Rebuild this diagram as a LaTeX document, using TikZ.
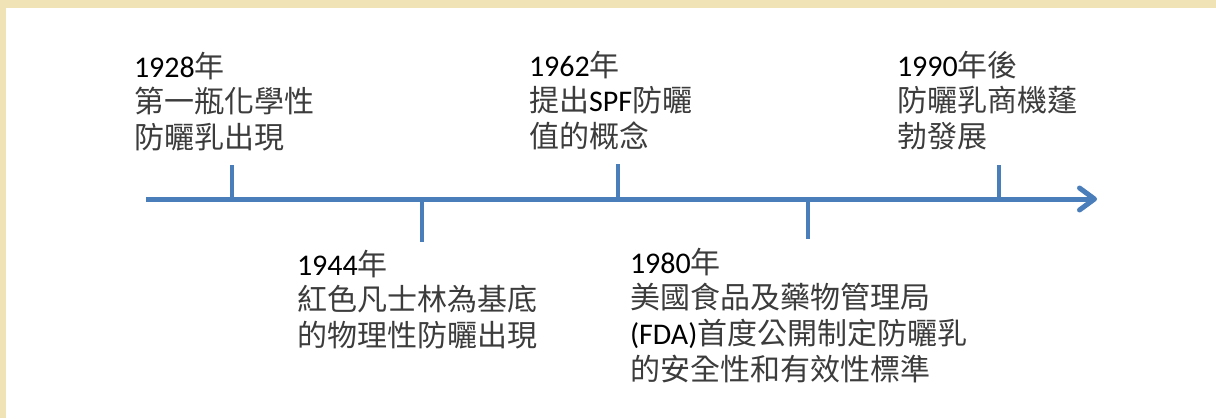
\documentclass[tikz,border=0pt]{standalone}
\usepackage{fontspec}
\setmainfont{Carlito}
\newfontfamily\zhfont{Noto Sans CJK TC}
\newcommand{\zh}[1]{{\zhfont\color{zhgray}#1}}
\usetikzlibrary{arrows.meta}
\definecolor{beige}{RGB}{240,228,183}
\definecolor{axisblue}{RGB}{74,126,187}
\definecolor{zhgray}{RGB}{60,60,60}
\begin{document}
\begin{tikzpicture}[x=1pt,y=-1pt,
  axisline/.style={draw=axisblue,line width=5pt},
  tickline/.style={draw=axisblue,line width=4.5pt},
  evtext/.style={anchor=base west,inner sep=0pt,outer sep=0pt,
    font=\fontsize{30}{35}\selectfont,text=black}]
\useasboundingbox (0,0) rectangle (1216,418);
\fill[beige] (0,0) rectangle (1216,418);
\fill[white] (6,8) rectangle (1216,418);
% axis
\coordinate (s) at (146,199);
\coordinate (e) at (1097,199);
\draw[axisline,-{Straight Barb[length=15pt,width=22pt,round]}] (s) -- (e);
% ticks
\coordinate (a1) at (232,199); \coordinate (b1) at (232,165);
\coordinate (a2) at (422,199); \coordinate (b2) at (422,242);
\coordinate (a3) at (618,199); \coordinate (b3) at (618,164);
\coordinate (a4) at (808,199); \coordinate (b4) at (808,239);
\coordinate (a5) at (999,199); \coordinate (b5) at (999,165);
\foreach \i in {1,...,5} \draw[tickline] (a\i) -- (b\i);
% texts
\node[evtext] (n1928) at (134,77) {\begin{tabular}[t]{@{}l@{}}1928\zh{年}\\\zh{第一瓶化學性}\\\zh{防曬乳出現}\end{tabular}};
\node[evtext] (n1944) at (297,275) {\begin{tabular}[t]{@{}l@{}}1944\zh{年}\\\zh{紅色凡士林為基底}\\\zh{的物理性防曬出現}\end{tabular}};
\node[evtext] (n1962) at (529,76) {\begin{tabular}[t]{@{}l@{}}1962\zh{年}\\\zh{提出}SPF\zh{防曬}\\\zh{值的概念}\end{tabular}};
\node[evtext] (n1980) at (630,273) {\begin{tabular}[t]{@{}l@{}}1980\zh{年}\\\zh{美國食品及藥物管理局}\\(FDA)\zh{首度公開制定防曬乳}\\\zh{的安全性和有效性標準}\end{tabular}};
\node[evtext] (n1990) at (897,76) {\begin{tabular}[t]{@{}l@{}}1990\zh{年後}\\\zh{防曬乳商機蓬}\\\zh{勃發展}\end{tabular}};
\end{tikzpicture}
\end{document}
